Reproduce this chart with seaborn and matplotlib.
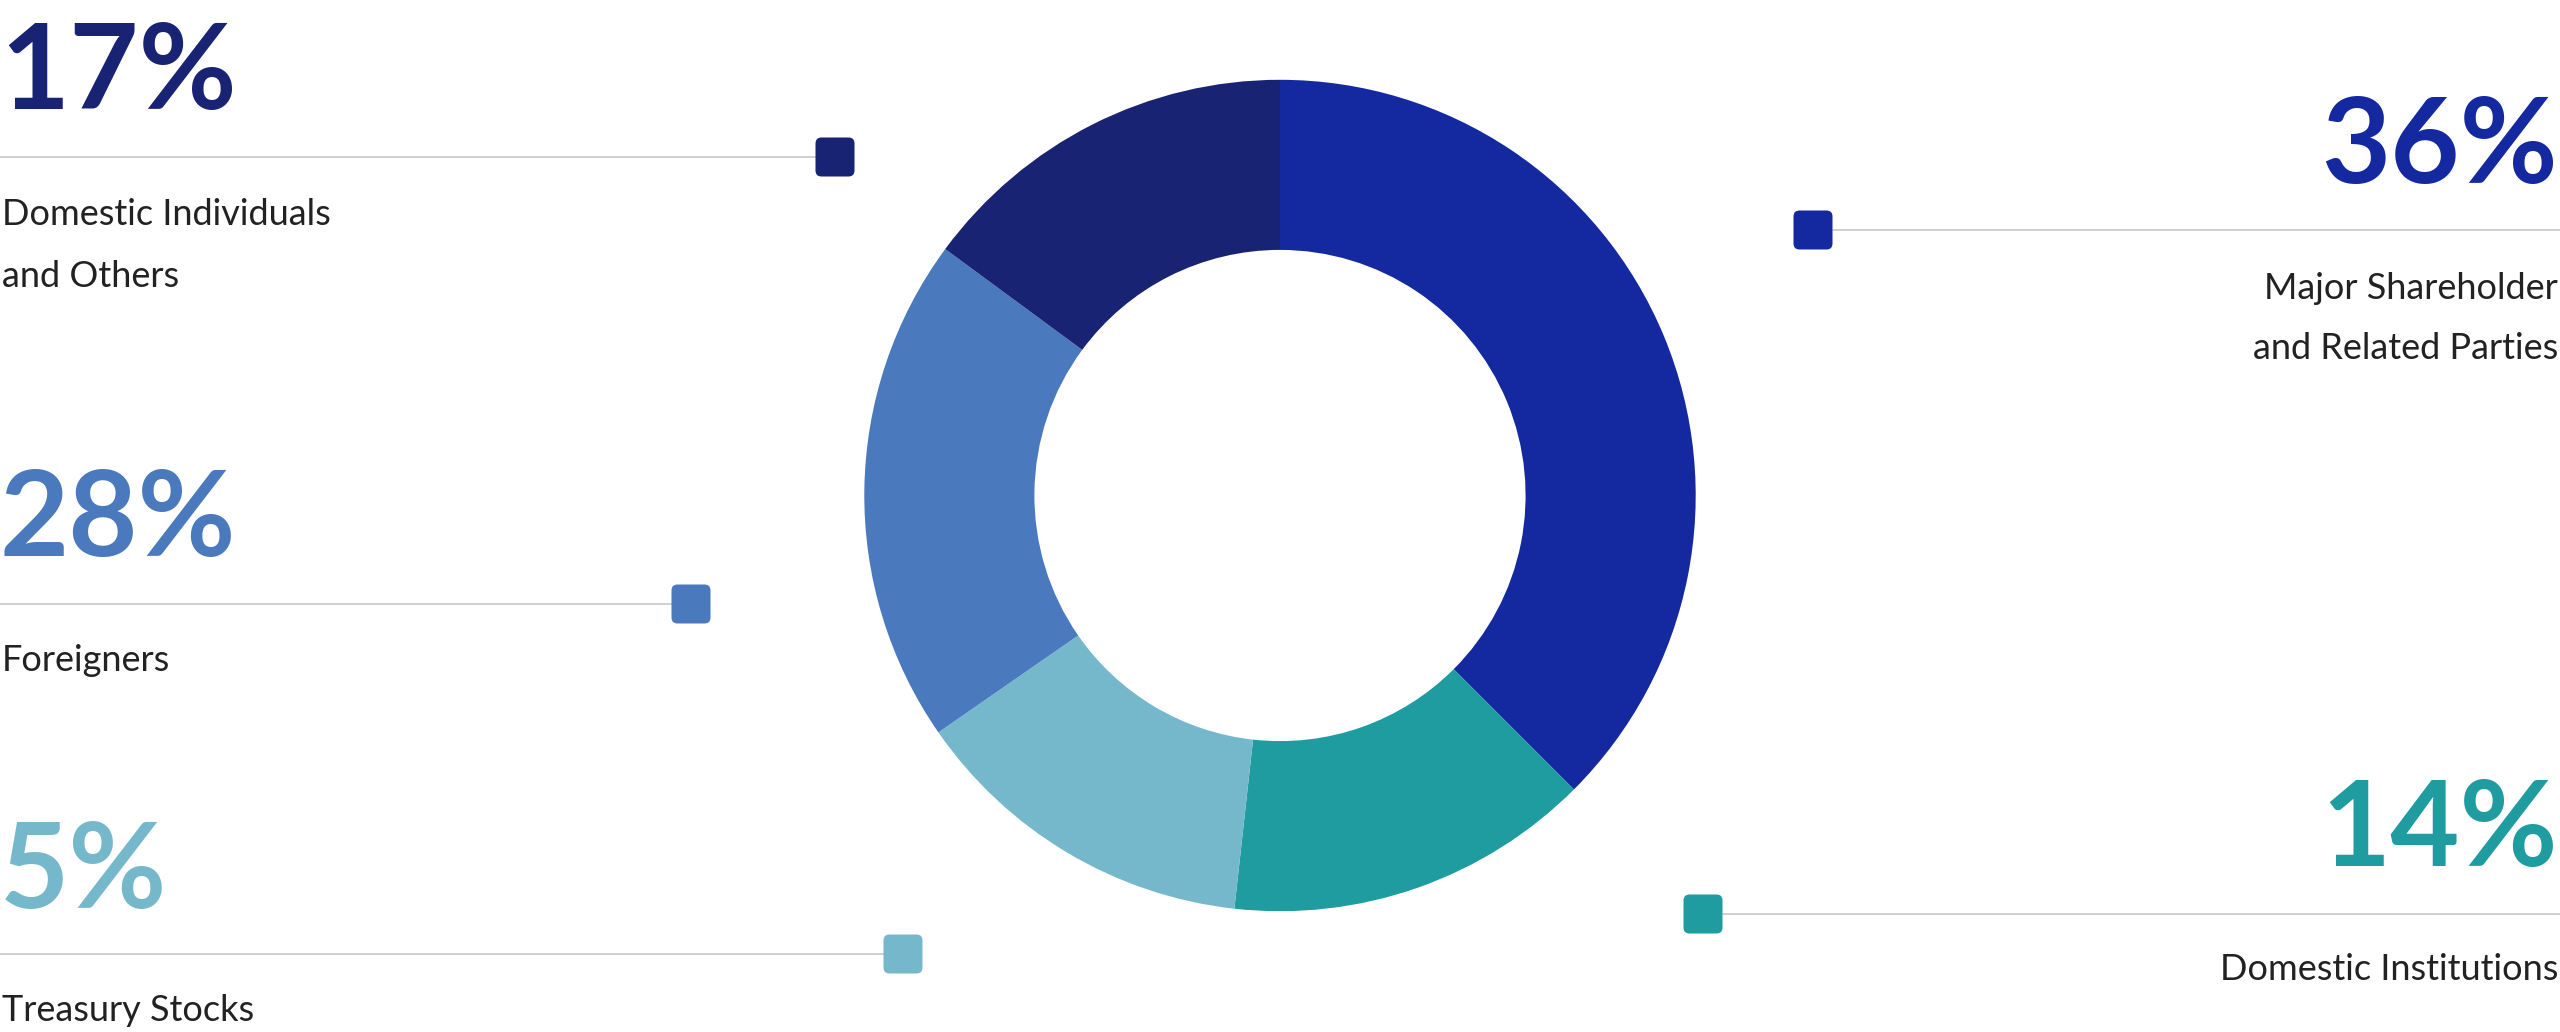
import matplotlib
matplotlib.use("Agg")
import matplotlib.pyplot as plt
from matplotlib.patches import FancyBboxPatch
import seaborn as sns

# ---- data ----
categories = ["Major Shareholder\nand Related Parties", "Domestic Institutions",
              "Treasury Stocks", "Foreigners", "Domestic Individuals\nand Others"]
label_pcts = ["36%", "14%", "5%", "28%", "17%"]
slice_values = [37.5, 14.25, 13.6, 19.75, 14.9]   # slice sizes as drawn
colors = ["#1428A0", "#1E9CA0", "#76B8CB", "#4A79BE", "#182373"]

sns.set_theme(style="white")
plt.rcParams["font.family"] = ["Lato", "DejaVu Sans"]

W, H = 2560, 1032
fig = plt.figure(figsize=(W / 100, H / 100), dpi=100)
ax = fig.add_axes([0, 0, 1, 1])

cx, cy, R = 1280, H - 495.5, 415.7
ax.pie(slice_values, colors=colors, startangle=90, counterclock=False,
       radius=R, center=(cx, cy), wedgeprops=dict(width=R - 245.6, linewidth=0))
ax.set_xlim(0, W)
ax.set_ylim(0, H)
ax.set_aspect("equal")
ax.axis("off")

# layout: (side, line_y, square_x, pct_baseline, text_baselines)
layout = {
    "Major Shareholder\nand Related Parties": ("R", 230, 1813, 183, [299, 359]),
    "Domestic Institutions": ("R", 914, 1703, 866, [980]),
    "Treasury Stocks": ("L", 954, 903, 908, [1021]),
    "Foreigners": ("L", 604, 691, 556, [671]),
    "Domestic Individuals\nand Others": ("L", 157, 835, 109, [225, 287]),
}
sq = 39
for cat, pct, col in zip(categories, label_pcts, colors):
    side, ly, sx, pb, tbs = layout[cat]
    if side == "L":
        ax.plot([0, sx - sq / 2], [H - ly, H - ly], color="#cccccc", lw=1.3, zorder=1)
        tx, ha = 0, "left"
    else:
        ax.plot([sx + sq / 2, W], [H - ly, H - ly], color="#cccccc", lw=1.3, zorder=1)
        tx, ha = W - 2, "right"
    ax.add_patch(FancyBboxPatch((sx - sq / 2, H - ly - sq / 2), sq, sq,
                                boxstyle="round,pad=0,rounding_size=6",
                                facecolor=col, edgecolor="none", zorder=2))
    ax.text(tx, H - pb, pct, color=col, fontsize=86, fontweight="bold",
            ha=ha, va="baseline")
    for line, tb in zip(cat.split("\n"), tbs):
        ax.text(tx + (2 if side == "L" else 0), H - tb, line, color="#222222",
                fontsize=26, fontweight="normal", ha=ha, va="baseline")

fig.savefig("out.png", dpi=100)
